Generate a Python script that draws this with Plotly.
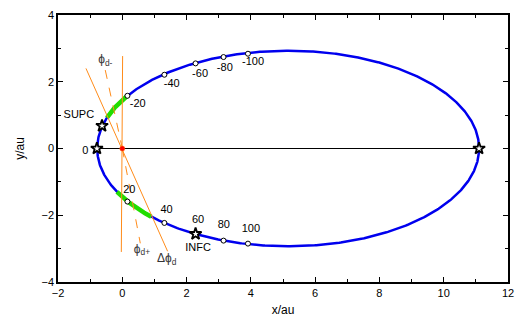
import numpy as np
import plotly.graph_objects as go

# Orbit geometry (au)
perihelion_x = -0.78
aphelion_x = 11.1
semi_minor = 2.93

# Green arc segments, as eccentric-anomaly ranges (deg)
green_arcs = [(147.7, 161.7), (206.3, 224.2)]

# Day markers (open circles)
day_x = [0.16, 1.31, 2.28, 3.15, 3.91, 0.16, 1.31, 3.15, 3.91]
day_y = [1.58, 2.21, 2.55, 2.74, 2.84, -1.59, -2.23, -2.76, -2.85]

# Star markers: perihelion, SUPC, INFC, aphelion
star_x = [-0.79, -0.63, 2.28, 11.1]
star_y = [0.0, 0.68, -2.56, 0.0]

# Orange lines
vert_line_x = [0.01, -0.03]
vert_line_y = [2.77, -3.1]
dphi_line_x = [-1.13, 1.41]
dphi_line_y = [2.40, -3.08]
phim_line_x = [-0.53, 0.0]
phim_line_y = [2.35, 0.0]
phip_line_x = [0.0, 0.56]
phip_line_y = [0.0, -2.84]

# Labels
label_x = [-1.35, -1.15, 0.48, 1.54, 2.42, 3.19, 4.07, 0.22, 1.38, 2.36, 2.36, 3.16, 4.0]
label_y = [1.0, -0.08, 1.34, 1.93, 2.23, 2.41, 2.59, -1.24, -1.86, -2.15, -3.0, -2.30, -2.41]
label_t = ["SUPC", "0", "-20", "-40", "-60", "-80", "-100", "20", "40", "60", "INFC", "80", "100"]
phi_x = [-0.53, 0.61, 1.38]
phi_y = [2.64, -3.03, -3.32]
phi_t = ["ϕ<sub>d-</sub>", "ϕ<sub>d+</sub>", "Δϕ<sub>d</sub>"]

xc = (perihelion_x + aphelion_x) / 2
a = (aphelion_x - perihelion_x) / 2

E = np.linspace(0, 2 * np.pi, 721)
ox = xc + a * np.cos(E)
oy = semi_minor * np.sin(E)

FONT = "Arial, Liberation Sans, sans-serif"
fig = go.Figure()

fig.add_trace(go.Scatter(x=[perihelion_x, aphelion_x], y=[0, 0], mode="lines",
                         line=dict(color="black", width=1.2)))
fig.add_trace(go.Scatter(x=ox, y=oy, mode="lines", line=dict(color="#0000ee", width=2.5)))
for e0, e1 in green_arcs:
    ee = np.radians(np.linspace(e0, e1, 40))
    fig.add_trace(go.Scatter(x=xc + a * np.cos(ee), y=semi_minor * np.sin(ee), mode="lines",
                             line=dict(color="#22dd00", width=4.5)))

orange = "#ff8c1a"
fig.add_trace(go.Scatter(x=vert_line_x, y=vert_line_y, mode="lines", line=dict(color=orange, width=1)))
fig.add_trace(go.Scatter(x=dphi_line_x, y=dphi_line_y, mode="lines", line=dict(color=orange, width=1)))
fig.add_trace(go.Scatter(x=phim_line_x, y=phim_line_y, mode="lines", line=dict(color=orange, width=1, dash="dash")))
fig.add_trace(go.Scatter(x=phip_line_x, y=phip_line_y, mode="lines", line=dict(color=orange, width=1, dash="dash")))

fig.add_trace(go.Scatter(x=day_x, y=day_y, mode="markers",
                         marker=dict(symbol="circle", size=5, color="white", line=dict(color="black", width=1))))
fig.add_trace(go.Scatter(x=star_x, y=star_y, mode="markers",
                         marker=dict(symbol="star", size=9, color="white", line=dict(color="black", width=1.8))))
fig.add_trace(go.Scatter(x=[0], y=[0], mode="markers",
                         marker=dict(symbol="circle", size=5, color="red", line=dict(color="#ff6600", width=0.5))))

fig.add_trace(go.Scatter(x=label_x, y=label_y, mode="text", text=label_t,
                         textfont=dict(family=FONT, size=11, color="black")))
fig.add_trace(go.Scatter(x=phi_x, y=phi_y, mode="text", text=phi_t,
                         textfont=dict(family=FONT, size=12, color="#333333")))

axis_common = dict(showline=True, linecolor="black", linewidth=1.6, mirror="allticks",
                   ticks="inside", ticklen=5, tickwidth=1.2, tickcolor="black",
                   showgrid=False, zeroline=False,
                   tickfont=dict(family=FONT, size=11, color="black"),
                   minor=dict(ticks="inside", ticklen=3, tickcolor="black", dtick=1))

fig.update_layout(
    width=523, height=325,
    margin=dict(l=58, r=12, t=9, b=43),
    plot_bgcolor="white", paper_bgcolor="white",
    showlegend=False,
    hovermode=False,
    xaxis=dict(range=[-2, 12], dtick=2, title=dict(text="x/au", font=dict(family=FONT, size=12, color="black"), standoff=8),
               **axis_common),
    yaxis=dict(range=[-4, 4], dtick=2, title=dict(text="y/au", font=dict(family=FONT, size=12, color="black"), standoff=14),
               **axis_common),
)

fig.write_html("out.html", config={"displayModeBar": False},
               post_script="document.body.style.margin='0';document.body.style.padding='0';")
